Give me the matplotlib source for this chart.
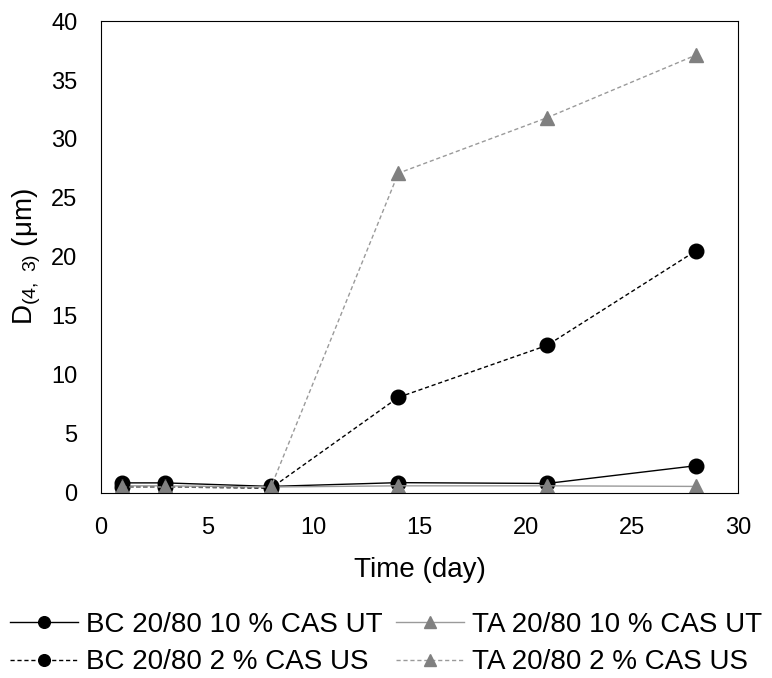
import matplotlib
matplotlib.use('Agg')
import matplotlib.pyplot as plt

plt.rcParams['font.family'] = ['Liberation Sans', 'DejaVu Sans']
plt.rcParams['mathtext.fontset'] = 'custom'
plt.rcParams['mathtext.rm'] = 'Liberation Sans'

days = [1, 3, 8, 14, 21, 28]
bc_10_ut = [0.85, 0.85, 0.55, 0.87, 0.8, 2.3]
ta_10_ut = [0.6, 0.6, 0.5, 0.6, 0.6, 0.55]
bc_2_us = [0.5, 0.5, 0.4, 8.1, 12.5, 20.5]
ta_2_us = [0.5, 0.5, 0.5, 27.1, 31.8, 37.1]

fig = plt.figure(figsize=(7.72, 6.78), dpi=100)
ax = fig.add_axes([0.131, 0.273, 0.825, 0.696])

gray = '#808080'
gray_line = '#9a9a9a'
l1, = ax.plot(days, bc_10_ut, color='black', lw=1, marker='o', ms=10.5, label='BC 20/80 10 % CAS UT')
l2, = ax.plot(days, ta_10_ut, color=gray_line, lw=1, marker='^', ms=10.5, mfc=gray, mec=gray,
              label='TA 20/80 10 % CAS UT')
l3, = ax.plot(days, bc_2_us, color='black', lw=1, ls=(0, (3, 2)), marker='o', ms=10.5, label='BC 20/80 2 % CAS US')
l4, = ax.plot(days, ta_2_us, color=gray_line, lw=1, ls=(0, (3, 2)), marker='^', ms=10.5, mfc=gray, mec=gray,
              label='TA 20/80 2 % CAS US')

ax.set_xlim(0, 30)
ax.set_ylim(0, 40)
ax.set_xticks(range(0, 31, 5))
ax.set_yticks(range(0, 41, 5))
ax.tick_params(labelsize=17, length=0)
ax.tick_params(axis='x', pad=17)
ax.tick_params(axis='y', pad=17)
ax.set_xlabel('Time (day)', fontsize=20, labelpad=13)
ax.set_ylabel(r'D$_{\mathregular{(4,\ 3)}}$ (μm)', fontsize=20, labelpad=6)

fig.legend(handles=[l1, l3, l2, l4], loc='upper center', bbox_to_anchor=(0.5, 0.114),
           ncol=2, frameon=False, fontsize=20, handlelength=2.45, columnspacing=0.45,
           handletextpad=0.3, labelspacing=0.42, markerscale=0.8, borderaxespad=0)

fig.savefig('out.png', dpi=100)
